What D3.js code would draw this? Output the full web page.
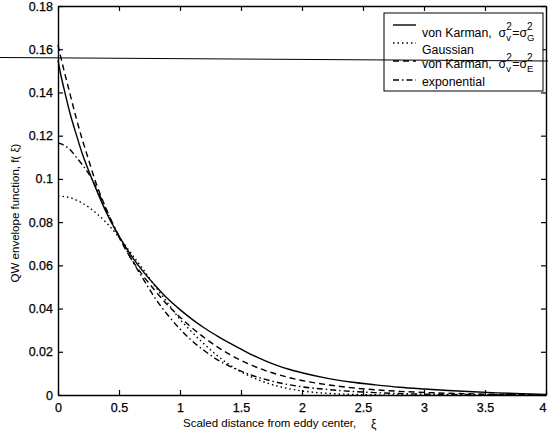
<!DOCTYPE html>
<html>
<head>
<meta charset="utf-8">
<script src="https://cdn.jsdelivr.net/npm/d3@7"></script>
<style>
  body { margin: 0; background: #fff; }
  svg { display: block; font-family: "Liberation Sans", Arial, sans-serif; }
</style>
</head>
<body>
<div id="chart"></div>
<script>
// scaled distance grid shared by all curves
const xi = [0, 0.02, 0.05, 0.1, 0.15, 0.2, 0.25, 0.3, 0.4, 0.5, 0.6, 0.7, 0.8, 0.9, 1.0,
  1.1, 1.2, 1.3, 1.4, 1.5, 1.6, 1.7, 1.8, 1.9, 2.0, 2.2, 2.4, 2.6, 2.8, 3.0, 3.2, 3.4, 3.6, 3.8, 4.0];

const vonKarmanG = [0.155, 0.149, 0.1415, 0.130, 0.1205, 0.1115, 0.104, 0.097, 0.084, 0.0735,
  0.0645, 0.057, 0.0505, 0.0445, 0.0395, 0.035, 0.031, 0.0275, 0.0242, 0.0212, 0.0183, 0.0158,
  0.0136, 0.0118, 0.0103, 0.0078, 0.0060, 0.0047, 0.0036, 0.0028, 0.0021, 0.0015, 0.0010, 0.0006, 0.0003];
const gaussian = [0.0921, 0.0920, 0.0918, 0.0913, 0.0902, 0.0888, 0.0870, 0.0848, 0.0795, 0.0730,
  0.0655, 0.058, 0.050, 0.0425, 0.035, 0.029, 0.0235, 0.0185, 0.0142, 0.0108, 0.008, 0.0058,
  0.0041, 0.0028, 0.0019, 0.0008, 0.0003, 0.0001, 0, 0, 0, 0, 0, 0, 0];
const vonKarmanE = [0.162, 0.157, 0.150, 0.139, 0.128, 0.118, 0.109, 0.100, 0.0855, 0.073,
  0.063, 0.055, 0.048, 0.0415, 0.036, 0.031, 0.0265, 0.0225, 0.019, 0.016, 0.0135, 0.0113,
  0.0095, 0.008, 0.0067, 0.0048, 0.0034, 0.0024, 0.0017, 0.0012, 0.0008, 0.0005, 0.0003, 0.0002, 0.0001];
const exponential = [0.1165, 0.1163, 0.1155, 0.1135, 0.110, 0.1065, 0.1025, 0.0975, 0.085, 0.0735,
  0.063, 0.0535, 0.0445, 0.037, 0.0305, 0.025, 0.0205, 0.0165, 0.0135, 0.011, 0.0089, 0.0072,
  0.0058, 0.0047, 0.0038, 0.0026, 0.0017, 0.0011, 0.0007, 0.0004, 0.0003, 0.0002, 0.0001, 0.0001, 0];

const xTicks = [0, 0.5, 1, 1.5, 2, 2.5, 3, 3.5, 4];
const yTicks = [0, 0.02, 0.04, 0.06, 0.08, 0.1, 0.12, 0.14, 0.16, 0.18];

const width = 548, height = 436;
const margin = {top: 6, right: 2, bottom: 41, left: 58};

const svg = d3.select("#chart").append("svg")
  .attr("width", width).attr("height", height);

const x = d3.scaleLinear().domain([0, 4]).range([margin.left, width - margin.right]);
const y = d3.scaleLinear().domain([0, 0.18]).range([height - margin.bottom, margin.top]);

// frame with inward ticks on all four sides (matlab style)
const tick = 5;
svg.append("g").attr("transform", `translate(0,${y(0)})`)
  .call(d3.axisBottom(x).tickValues(xTicks).tickSizeInner(-tick).tickSizeOuter(0)
    .tickPadding(8).tickFormat(d3.format("")));
svg.append("g").attr("transform", `translate(0,${y(0.18)})`)
  .call(d3.axisTop(x).tickValues(xTicks).tickSizeInner(-tick).tickSizeOuter(0).tickFormat(""));
svg.append("g").attr("transform", `translate(${x(0)},0)`)
  .call(d3.axisLeft(y).tickValues(yTicks).tickSizeInner(-tick).tickSizeOuter(0)
    .tickPadding(5).tickFormat(d3.format("")));
svg.append("g").attr("transform", `translate(${x(4)},0)`)
  .call(d3.axisRight(y).tickValues(yTicks).tickSizeInner(-tick).tickSizeOuter(0).tickFormat(""));

svg.selectAll(".domain").attr("stroke", "#000").attr("stroke-width", 1.4);
svg.selectAll(".tick line").attr("stroke", "#000").attr("stroke-width", 1.2);
svg.selectAll(".tick text").attr("font-size", 12.5).attr("fill", "#000")
  .attr("stroke", "#000").attr("stroke-width", 0.25)
  .attr("font-family", "Liberation Sans, Arial, sans-serif");
// last x label sits at the very edge; keep it inside the page
svg.selectAll(".tick text").filter(d => d === 4).attr("text-anchor", "end").attr("dx", 0);

// curves
const series = [
  {values: vonKarmanG, dash: null},
  {values: gaussian, dash: "1.5,3"},
  {values: vonKarmanE, dash: "6,4"},
  {values: exponential, dash: "6,3,1.5,3"}
];
const line = d3.line().x((d, i) => x(xi[i])).y(d => y(d)).curve(d3.curveMonotoneX);
series.forEach(s => {
  svg.append("path").datum(s.values)
    .attr("d", line)
    .attr("fill", "none")
    .attr("stroke", "#000")
    .attr("stroke-width", 1.4)
    .attr("stroke-dasharray", s.dash);
});

// axis titles
svg.append("text")
  .attr("x", 183).attr("y", 427)
  .attr("font-size", 11.5)
  .text("Scaled distance from eddy center,");
svg.append("text")
  .attr("x", 371).attr("y", 428)
  .attr("font-size", 12)
  .text("ξ");
svg.append("text")
  .attr("transform", "translate(19,213) rotate(-90)")
  .attr("text-anchor", "middle")
  .attr("font-size", 11.5)
  .text("QW envelope function, f( ξ)");

// legend
const legend = svg.append("g");
legend.append("rect")
  .attr("x", 384).attr("y", 13).attr("width", 159).attr("height", 78)
  .attr("fill", "#fff").attr("stroke", "#000").attr("stroke-width", 1);

const sigma = (sub) => [
  {t: "σ"}, {sup: "2", sub: "v"}, {t: "="}, {t: "σ"}, {sup: "2", sub: sub}
];
const legendRows = [
  {dash: null, ly: 25, ty: 37, parts: [{t: "von Karman,  "}].concat(sigma("G"))},
  {dash: "1.5,3", ly: 43, ty: 54, parts: [{t: "Gaussian"}]},
  {dash: "6,4", ly: 61, ty: 68, parts: [{t: "von Karman,  "}].concat(sigma("E"))},
  {dash: "6,3,1.5,3", ly: 80, ty: 86, parts: [{t: "exponential"}]}
];

legendRows.forEach(r => {
  legend.append("line")
    .attr("x1", 393).attr("x2", 416).attr("y1", r.ly).attr("y2", r.ly)
    .attr("stroke", "#000").attr("stroke-width", 1.4)
    .attr("stroke-dasharray", r.dash);
  let cx = 422;
  r.parts.forEach(p => {
    if (p.t !== undefined) {
      const t = legend.append("text").attr("x", cx).attr("y", r.ty)
        .attr("font-size", 12.3).text(p.t).attr("xml:space", "preserve");
      cx += t.node().getComputedTextLength();
    } else {
      const a = legend.append("text").attr("x", cx).attr("y", r.ty - 7)
        .attr("font-size", 10).text(p.sup);
      const b = legend.append("text").attr("x", cx).attr("y", r.ty + 4)
        .attr("font-size", 9.5).text(p.sub);
      cx += Math.max(a.node().getComputedTextLength(), b.node().getComputedTextLength()) + 0.5;
    }
  });
});

// horizontal rule across the scan
svg.append("line")
  .attr("x1", 0).attr("x2", width).attr("y1", 57.5).attr("y2", 61)
  .attr("stroke", "#000").attr("stroke-width", 1);
</script>
</body>
</html>
